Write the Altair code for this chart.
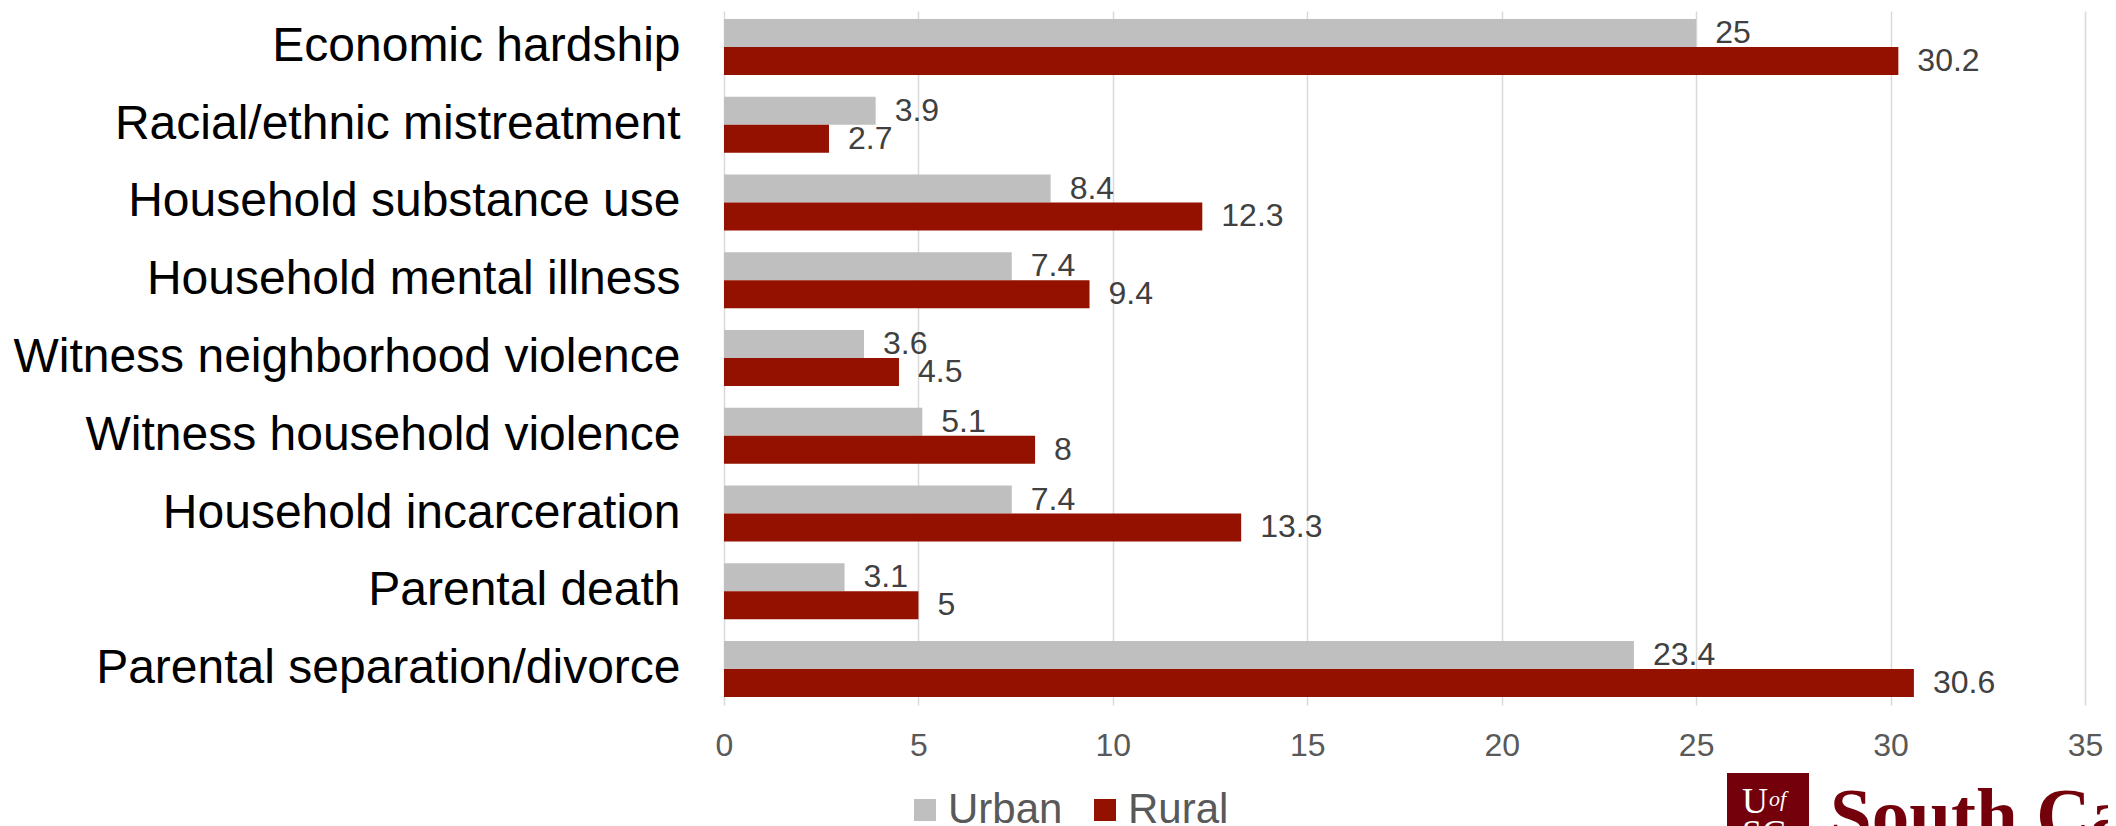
import altair as alt
import pandas as pd

categories = [
    "Economic hardship",
    "Racial/ethnic mistreatment",
    "Household substance use",
    "Household mental illness",
    "Witness neighborhood violence",
    "Witness household violence",
    "Household incarceration",
    "Parental death",
    "Parental separation/divorce",
]
urban = [25, 3.9, 8.4, 7.4, 3.6, 5.1, 7.4, 3.1, 23.4]
rural = [30.2, 2.7, 12.3, 9.4, 4.5, 8, 13.3, 5, 30.6]
series = ["Urban", "Rural"]
colors = ["#BFBFBF", "#941100"]
x_ticks = [0, 5, 10, 15, 20, 25, 30, 35]

rows = []
for c, u, r in zip(categories, urban, rural):
    rows.append({"category": c, "series": "Urban", "value": u})
    rows.append({"category": c, "series": "Rural", "value": r})
df = pd.DataFrame(rows)

FONT = "Liberation Sans"

base = alt.Chart(df).encode(
    y=alt.Y(
        "category:N",
        sort=categories,
        scale=alt.Scale(paddingInner=0.28, paddingOuter=0.103),
        axis=alt.Axis(
            title=None,
            labelFont=FONT,
            labelFontSize=48,
            labelColor="#000000",
            labelPadding=44,
            ticks=False,
            domain=False,
            grid=False,
            labelLimit=1000,
        ),
    ),
    yOffset=alt.YOffset("series:N", sort=series, scale=alt.Scale(paddingInner=0, paddingOuter=0)),
)

bars = base.mark_bar().encode(
    x=alt.X(
        "value:Q",
        scale=alt.Scale(domain=[0, 35], nice=False),
        axis=alt.Axis(
            values=x_ticks,
            title=None,
            labelFont=FONT,
            labelFontSize=32,
            labelColor="#595959",
            labelPadding=25,
            labelFlush=False,
            ticks=False,
            tickSize=0,
            domain=False,
            grid=True,
            gridColor="#D9D9D9",
            gridWidth=1.5,
        ),
    ),
    color=alt.Color(
        "series:N",
        sort=series,
        scale=alt.Scale(domain=series, range=colors),
        legend=alt.Legend(
            title=None,
            orient="none",
            legendX=180,
            legendY=778,
            direction="horizontal",
            symbolType="square",
            symbolSize=484,
            symbolStrokeWidth=0,
            labelFont=FONT,
            labelFontSize=42,
            labelColor="#595959",
            labelOffset=2,
            columnPadding=21,
            padding=0,
        ),
    ),
)

labels = base.mark_text(
    align="left", baseline="middle", dx=19, font=FONT, fontSize=32, color="#404040"
).encode(
    x=alt.X("value:Q"),
    text=alt.Text("value:Q", format=".1~f"),
)

logo_df = pd.DataFrame({"name": ["South Carolina"], "u": ["U"], "of": ["of"], "sc": ["SC"]})
logo_box = alt.Chart(logo_df).mark_rect(color="#73000A").encode(
    x=alt.value(1003), x2=alt.value(1085), y=alt.value(762), y2=alt.value(846)
)
logo_u = alt.Chart(logo_df).mark_text(
    align="left", baseline="alphabetic", font="Liberation Serif", fontSize=36, color="#FFFFFF"
).encode(x=alt.value(1018), y=alt.value(802), text="u:N")
logo_of = alt.Chart(logo_df).mark_text(
    align="left", baseline="alphabetic", font="Liberation Serif", fontStyle="italic", fontSize=22, color="#FFFFFF"
).encode(x=alt.value(1045), y=alt.value(795), text="of:N")
logo_sc = alt.Chart(logo_df).mark_text(
    align="left", baseline="alphabetic", font="Liberation Serif", fontSize=36, color="#FFFFFF"
).encode(x=alt.value(1018), y=alt.value(834), text="sc:N")
logo_name = alt.Chart(logo_df).mark_text(
    align="left", baseline="alphabetic", font="Liberation Serif", fontWeight="bold", fontSize=75, color="#73000A"
).encode(x=alt.value(1106), y=alt.value(829), text="name:N")

chart = (
    alt.layer(bars, labels, logo_box, logo_u, logo_of, logo_sc, logo_name)
    .properties(
        width=1361,
        height=694,
        autosize=alt.AutoSizeParams(type="none"),
        padding={"left": 716, "top": 3, "right": 23, "bottom": 121},
        background="#FFFFFF",
    )
    .configure_view(stroke=None)
)

chart.save("out.html", embed_options={"renderer": "svg", "actions": False})
